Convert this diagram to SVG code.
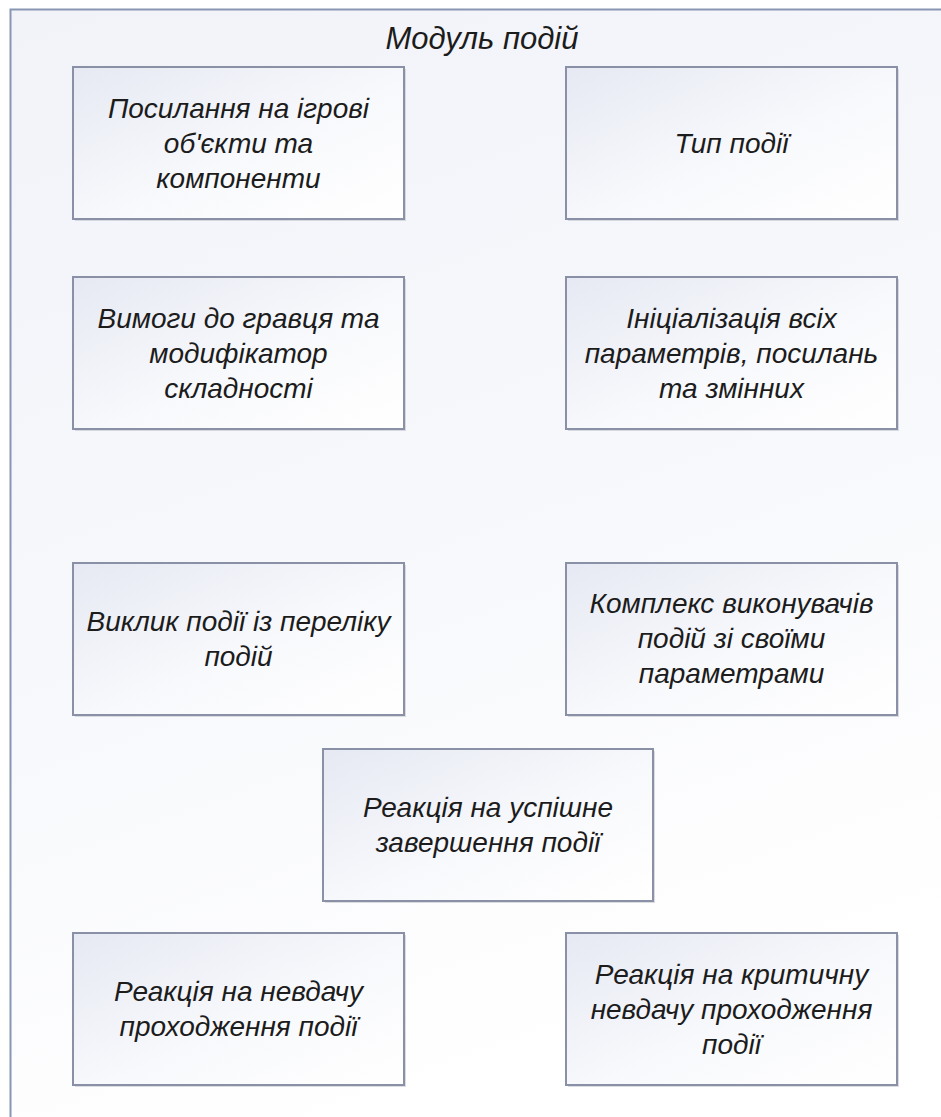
<svg xmlns="http://www.w3.org/2000/svg" width="941" height="1117" viewBox="0 0 941 1117">
  <style>
    .box { fill: url(#boxFill); stroke: #8a91a6; stroke-width: 2; }
    .shadow { fill: #b9bcc6; opacity: 0.5; }
    .label { font-family: "Liberation Sans", Arial, sans-serif; font-style: italic; font-size: 28px; fill: #1c1c1c; text-anchor: middle; }
    .title { font-size: 31px; }
  </style>
  <defs>
    <linearGradient id="boxFill" x1="0" y1="0" x2="1" y2="1">
      <stop offset="0" stop-color="#e6e9f3"/>
      <stop offset="0.55" stop-color="#f8f9fc"/>
      <stop offset="1" stop-color="#ffffff"/>
    </linearGradient>
    <linearGradient id="frameFill" x1="0" y1="0" x2="0.3" y2="1">
      <stop offset="0" stop-color="#f1f3f9"/>
      <stop offset="0.6" stop-color="#f8f9fc"/>
      <stop offset="1" stop-color="#ffffff"/>
    </linearGradient>
  </defs>

  <rect width="941" height="1117" fill="#ffffff"/>

  <!-- module frame, runs past the right and bottom edges -->
  <g id="module-frame">
    <rect x="10.5" y="9.5" width="960" height="1140" fill="url(#frameFill)" stroke="#8796b3" stroke-width="2"/>
    <text class="label title" x="482" y="49">Модуль подій</text>
  </g>

  <g id="connectors"></g>

  <g id="node-refs">
    <rect class="shadow" x="75" y="69" width="331" height="152"/>
    <rect class="box" x="73" y="67" width="331" height="152"/>
    <text class="label" x="238.5" y="118">Посилання на ігрові</text>
    <text class="label" x="238.5" y="153">об'єкти та</text>
    <text class="label" x="238.5" y="188">компоненти</text>
  </g>

  <g id="node-type">
    <rect class="shadow" x="568" y="69" width="331" height="152"/>
    <rect class="box" x="566" y="67" width="331" height="152"/>
    <text class="label" x="731.5" y="153">Тип події</text>
  </g>

  <g id="node-requirements">
    <rect class="shadow" x="75" y="279" width="331" height="152"/>
    <rect class="box" x="73" y="277" width="331" height="152"/>
    <text class="label" x="238.5" y="328">Вимоги до гравця та</text>
    <text class="label" x="238.5" y="363">модифікатор</text>
    <text class="label" x="238.5" y="398">складності</text>
  </g>

  <g id="node-init">
    <rect class="shadow" x="568" y="279" width="331" height="152"/>
    <rect class="box" x="566" y="277" width="331" height="152"/>
    <text class="label" x="731.5" y="328">Ініціалізація всіх</text>
    <text class="label" x="731.5" y="363">параметрів, посилань</text>
    <text class="label" x="731.5" y="398">та змінних</text>
  </g>

  <g id="node-call">
    <rect class="shadow" x="75" y="565" width="331" height="152"/>
    <rect class="box" x="73" y="563" width="331" height="152"/>
    <text class="label" x="238.5" y="631">Виклик події із переліку</text>
    <text class="label" x="238.5" y="666">подій</text>
  </g>

  <g id="node-executors">
    <rect class="shadow" x="568" y="565" width="331" height="152"/>
    <rect class="box" x="566" y="563" width="331" height="152"/>
    <text class="label" x="731.5" y="613">Комплекс виконувачів</text>
    <text class="label" x="731.5" y="648">подій зі своїми</text>
    <text class="label" x="731.5" y="683">параметрами</text>
  </g>

  <g id="node-success">
    <rect class="shadow" x="325" y="751" width="330" height="152"/>
    <rect class="box" x="323" y="749" width="330" height="152"/>
    <text class="label" x="488" y="817">Реакція на успішне</text>
    <text class="label" x="488" y="852">завершення події</text>
  </g>

  <g id="node-failure">
    <rect class="shadow" x="75" y="935" width="331" height="152"/>
    <rect class="box" x="73" y="933" width="331" height="152"/>
    <text class="label" x="238.5" y="1001">Реакція на невдачу</text>
    <text class="label" x="238.5" y="1036">проходження події</text>
  </g>

  <g id="node-critical">
    <rect class="shadow" x="568" y="935" width="331" height="152"/>
    <rect class="box" x="566" y="933" width="331" height="152"/>
    <text class="label" x="731.5" y="984">Реакція на критичну</text>
    <text class="label" x="731.5" y="1019">невдачу проходження</text>
    <text class="label" x="731.5" y="1054">події</text>
  </g>
</svg>
